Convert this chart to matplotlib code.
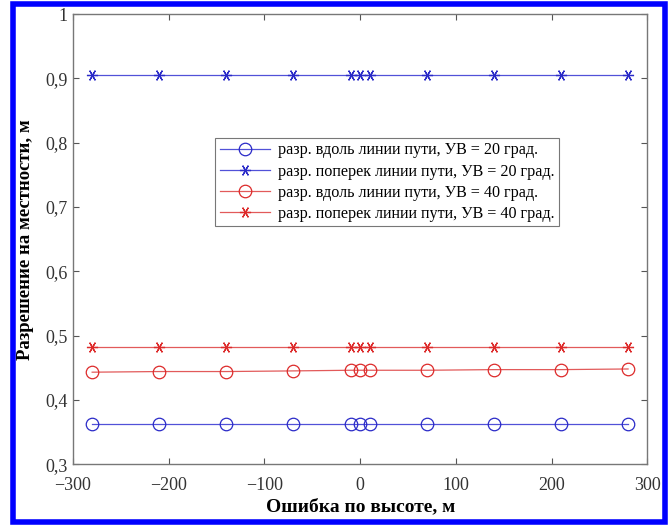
import numpy as np
import matplotlib.pyplot as plt
from matplotlib.patches import Rectangle

plt.rcParams['font.family'] = ['Liberation Serif', 'DejaVu Serif']

# altitude error, m
err = [-280, -210, -140, -70, -10, 0, 10, 70, 140, 210, 280]

# ground resolution, m
along_20 = [0.362, 0.362, 0.362, 0.362, 0.362, 0.362, 0.362, 0.362, 0.362, 0.362, 0.362]
across_20 = [0.905, 0.905, 0.905, 0.905, 0.905, 0.905, 0.905, 0.905, 0.905, 0.905, 0.905]
along_40 = [0.443, 0.444, 0.444, 0.445, 0.446, 0.446, 0.446, 0.446, 0.447, 0.447, 0.448]
across_40 = [0.482, 0.482, 0.482, 0.482, 0.482, 0.482, 0.482, 0.482, 0.482, 0.482, 0.482]

labels = ['разр. вдоль линии пути, УВ = 20 град.',
          'разр. поперек линии пути, УВ = 20 град.',
          'разр. вдоль линии пути, УВ = 40 град.',
          'разр. поперек линии пути, УВ = 40 град.']

xticks = [-300, -200, -100, 0, 100, 200, 300]
yticks = [0.3, 0.4, 0.5, 0.6, 0.7, 0.8, 0.9, 1.0]

blue, blue_m = '#5151d8', '#2a2ac8'
red, red_m = '#e25a5a', '#dd2a2a'
star = (6, 2, 90)

fig = plt.figure(figsize=(6.7, 5.25), dpi=100)
ax = fig.add_axes([0.109, 0.116, 0.857, 0.857])

ax.plot(err, along_20, '-', color=blue, lw=0.9, marker='o', ms=9, mfc='none', mec=blue_m, mew=0.9, label=labels[0])
ax.plot(err, across_20, '-', color=blue, lw=0.9, marker=star, ms=8, mec=blue_m, mew=0.9, label=labels[1])
ax.plot(err, along_40, '-', color=red, lw=0.9, marker='o', ms=9, mfc='none', mec=red_m, mew=0.9, label=labels[2])
ax.plot(err, across_40, '-', color=red, lw=0.9, marker=star, ms=8, mec=red_m, mew=0.9, label=labels[3])

ax.set_xlim(-300, 300)
ax.set_ylim(0.3, 1.0)
ax.set_xticks(xticks)
ax.set_xticklabels([str(v).replace('-', '\u2212') for v in xticks])
ax.set_yticks(yticks)
ax.set_yticklabels([('%g' % v).replace('.', ',') for v in yticks])
ax.tick_params(direction='in', top=True, right=True, length=4, width=0.8,
               color='#555555', labelsize=13, labelcolor='#333333', pad=4)
ax.tick_params(axis='x', pad=9)
for sp in ax.spines.values():
    sp.set_color('#777777')
    sp.set_linewidth(1.0)

ax.set_xlabel('Ошибка по высоте, м', fontsize=14, fontweight='bold', labelpad=3)
ax.set_ylabel('Разрешение на местности, м', fontsize=13.5, fontweight='bold', labelpad=8)

leg = ax.legend(loc='upper left', bbox_to_anchor=(0.234, 0.743), fontsize=11.6,
                frameon=True, fancybox=False, handlelength=3.1, borderpad=0.28,
                labelspacing=0.32, handletextpad=0.5)
leg.get_frame().set_edgecolor('#555555')
leg.get_frame().set_linewidth(0.8)

# outer frame
fig.patches.append(Rectangle((13 / 670, 3 / 525), 652 / 670, 518 / 525,
                             transform=fig.transFigure, fill=False,
                             edgecolor='#0000ff', lw=4, zorder=10))

fig.savefig('out.png', dpi=100)
